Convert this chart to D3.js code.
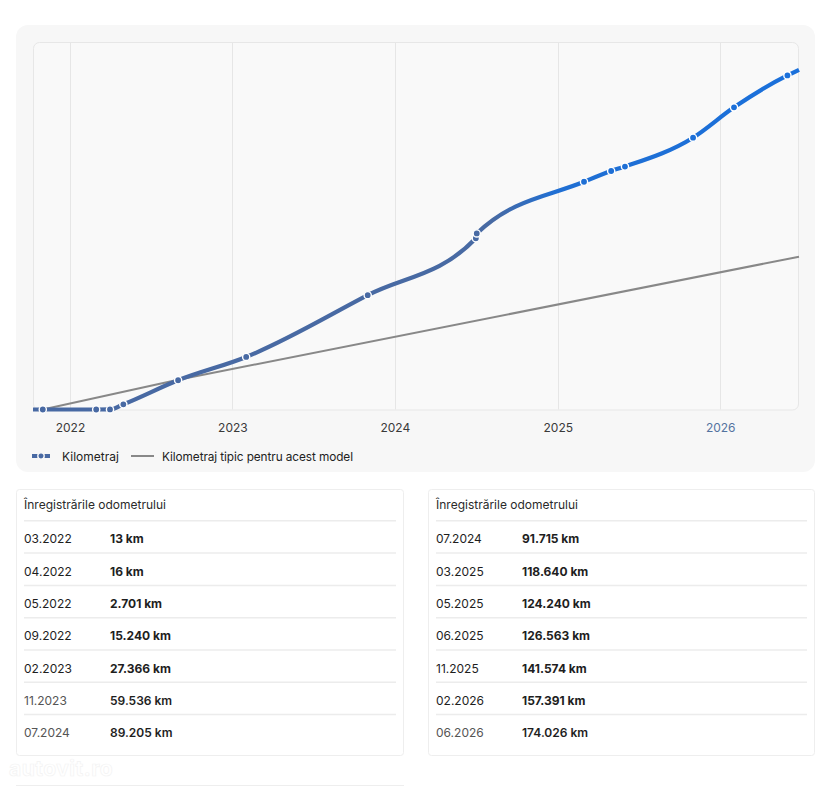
<!DOCTYPE html>
<html>
<head>
<meta charset="utf-8">
<script src="https://cdn.jsdelivr.net/npm/d3@7"></script>
<style>
  html, body { margin: 0; padding: 0; background: #ffffff; }
  svg { display: block; font-family: Inter, "Noto Sans", "Liberation Sans", sans-serif; }
</style>
</head>
<body>
<svg id="chart" width="832" height="787"></svg>
<script>
// ---------------- DATA ----------------
// Odometer records (table rows and chart markers)
const recordDates  = ["2022-03","2022-04","2022-05","2022-09","2023-02","2023-11","2024-07",
                      "2024-07","2025-03","2025-05","2025-06","2025-11","2026-02","2026-06"];
const recordLabels = ["03.2022","04.2022","05.2022","09.2022","02.2023","11.2023","07.2024",
                      "07.2024","03.2025","05.2025","06.2025","11.2025","02.2026","06.2026"];
const recordKm     = [13, 16, 2701, 15240, 27366, 59536, 89205,
                      91715, 118640, 124240, 126563, 141574, 157391, 174026];
// day offsets used to separate the two records of the same month
const recordDayOfMonth = [1,1,1,1,1,1,1, 3,1,1,1,1,1,1];
// first registration point (chart only) and line ends estimated at plot edges
const firstPointDate = "2021-11";
const firstPointKm = 0;
const lineStartDate = "2021-10-10";
const lineStartKm = 0;
const lineEndDate = "2026-06-27";
const lineEndKm = 176900;
// typical mileage for this model (grey line), estimated
const typicalDates = ["2021-10-10","2021-11-01","2022-09-01","2026-06-27"];
const typicalKm    = [0, 0, 15500, 79600];
// x-axis ticks
const yearTicks = [2022, 2023, 2024, 2025, 2026];
const highlightYear = 2026;
// texts
const seriesName = "Kilometraj";
const typicalName = "Kilometraj tipic pentru acest model";
const tableTitle = "Înregistrările odometrului";
const leftRows = 7;

// ---------------- HELPERS ----------------
const toDate = (s, day) => {
  const p = s.split("-").map(Number);
  return new Date(p[0], p[1]-1, p.length > 2 ? p[2] : (day || 1));
};
const locale = d3.formatLocale({decimal: ",", thousands: ".", grouping: [3], currency: ["", ""]});
const fmtKm = v => locale.format(",d")(v) + " km";

const svg = d3.select("#chart");
const defs = svg.append("defs");

// ---------------- CHART CARD ----------------
const card = {x: 16, y: 25, w: 799, h: 447};
svg.append("rect").attr("x", card.x).attr("y", card.y).attr("width", card.w).attr("height", card.h)
  .attr("rx", 12).attr("fill", "#f7f7f7");

const plot = {left: 33, right: 799, top: 42, bottom: 409.5};
svg.append("rect").attr("x", plot.left + 0.5).attr("y", plot.top + 0.5)
  .attr("width", plot.right - plot.left - 1).attr("height", plot.bottom - plot.top)
  .attr("rx", 6).attr("fill", "#f9f9f9").attr("stroke", "#e7e7e7").attr("stroke-width", 1);

const x = d3.scaleTime()
  .domain([toDate(lineStartDate), toDate(lineEndDate)])
  .range([plot.left, plot.right]);
const y = d3.scaleLinear()
  .domain([0, d3.max(recordKm) * 1.1])
  .range([plot.bottom, plot.top]);

// grid lines
svg.append("g").selectAll("line").data(yearTicks).join("line")
  .attr("x1", d => Math.round(x(new Date(d, 0, 1))) + 0.5)
  .attr("x2", d => Math.round(x(new Date(d, 0, 1))) + 0.5)
  .attr("y1", plot.top + 1).attr("y2", plot.bottom)
  .attr("stroke", "#e6e6e6").attr("stroke-width", 1);

// x axis labels
const xAxis = d3.axisBottom(x)
  .tickValues(yearTicks.map(d => new Date(d, 0, 1)))
  .tickFormat(d3.timeFormat("%Y"))
  .tickSize(0).tickPadding(14);
const gx = svg.append("g").attr("transform", `translate(0,${plot.bottom})`).call(xAxis);
gx.select(".domain").remove();
gx.selectAll("text")
  .attr("font-size", 12).attr("font-family", "Inter, sans-serif")
  .attr("fill", d => d.getFullYear() === highlightYear ? "#54739f" : "#3a3a3a");

// gradient for mileage line
const grad = defs.append("linearGradient").attr("id", "kmGrad")
  .attr("gradientUnits", "userSpaceOnUse")
  .attr("x1", plot.left).attr("x2", plot.right).attr("y1", 0).attr("y2", 0);
grad.append("stop").attr("offset", 0).attr("stop-color", "#4869a3");
grad.append("stop").attr("offset", 0.6).attr("stop-color", "#486aa3");
grad.append("stop").attr("offset", 0.68).attr("stop-color", "#206fd3");
grad.append("stop").attr("offset", 1).attr("stop-color", "#1a70db");

// typical line
const typicalData = typicalDates.map((d, i) => ({date: toDate(d), km: typicalKm[i]}));
svg.append("path").datum(typicalData)
  .attr("d", d3.line().x(d => x(d.date)).y(d => y(d.km)))
  .attr("fill", "none").attr("stroke", "#888888").attr("stroke-width", 2);

// mileage line
const markers = [{date: toDate(firstPointDate), km: firstPointKm}]
  .concat(recordDates.map((d, i) => ({date: toDate(d, recordDayOfMonth[i]), km: recordKm[i]})));
const lineData = [{date: toDate(lineStartDate), km: lineStartKm}]
  .concat(markers)
  .concat([{date: toDate(lineEndDate), km: lineEndKm}]);
svg.append("path").datum(lineData)
  .attr("d", d3.line().curve(d3.curveMonotoneX).x(d => x(d.date)).y(d => y(d.km)))
  .attr("fill", "none").attr("stroke", "url(#kmGrad)").attr("stroke-width", 4.2)
  .attr("stroke-linejoin", "round");

svg.append("g").selectAll("circle").data(markers).join("circle")
  .attr("cx", d => x(d.date)).attr("cy", d => y(d.km))
  .attr("r", 3.6).attr("fill", "url(#kmGrad)")
  .attr("stroke", "#ffffff").attr("stroke-width", 1.4);

// legend
const lg = svg.append("g");
lg.append("line").attr("x1", 32).attr("x2", 50).attr("y1", 456).attr("y2", 456)
  .attr("stroke", "#4869a3").attr("stroke-width", 4);
lg.append("circle").attr("cx", 41).attr("cy", 456).attr("r", 3.2)
  .attr("fill", "#4869a3").attr("stroke", "#f7f7f7").attr("stroke-width", 1.4);
lg.append("text").attr("x", 62).attr("y", 460.5).attr("font-size", 12).attr("fill", "#222")
  .text(seriesName);
lg.append("line").attr("x1", 131).attr("x2", 154).attr("y1", 456).attr("y2", 456)
  .attr("stroke", "#888").attr("stroke-width", 2);
lg.append("text").attr("x", 162).attr("y", 460.5).attr("font-size", 11.8).attr("fill", "#222")
  .attr("textLength", 191).attr("lengthAdjust", "spacing")
  .text(typicalName);

// ---------------- TABLES ----------------
function drawTable(x0, cardW, idxs, nLight) {
  const g = svg.append("g");
  g.append("rect").attr("x", x0 + 0.5).attr("y", 489.5).attr("width", cardW).attr("height", 266)
    .attr("rx", 3).attr("fill", "#ffffff").attr("stroke", "#eeeeee").attr("stroke-width", 1);
  const tx = x0 + 8;
  const lineEnd = x0 + cardW - 7;
  g.append("text").attr("x", tx).attr("y", 509).attr("font-size", 12).attr("fill", "#2a2a2a")
    .text(tableTitle);
  const rowH = 32.3;
  idxs.forEach((ri, k) => {
    const sepY = 520.8 + k * rowH;
    g.append("line").attr("x1", tx).attr("x2", lineEnd).attr("y1", sepY).attr("y2", sepY)
      .attr("stroke", "#ececec").attr("stroke-width", 1.5);
    const light = k >= idxs.length - nLight;
    const ty = sepY + 22.5;
    g.append("text").attr("x", tx).attr("y", ty).attr("font-size", 12)
      .attr("fill", light ? "#555" : "#1e1e1e")
      .text(recordLabels[ri]);
    g.append("text").attr("x", tx + 86).attr("y", ty).attr("font-size", 12)
      .attr("font-weight", light ? 600 : 700).attr("fill", "#1e1e1e")
      .text(fmtKm(recordKm[ri]));
  });
}
const allIdx = d3.range(recordKm.length);
drawTable(16, 387, allIdx.slice(0, leftRows), 2);
drawTable(428, 386, allIdx.slice(leftRows), 1);

// bottom separator line
svg.append("line").attr("x1", 16).attr("x2", 404).attr("y1", 785.5).attr("y2", 785.5)
  .attr("stroke", "#eeeeee").attr("stroke-width", 1);

// faint watermark
svg.append("text").attr("x", 9).attr("y", 776).attr("font-size", 21).attr("font-weight", 700)
  .attr("fill", "#ffffff").attr("stroke", "#f3f3f3").attr("stroke-width", 0.7)
  .attr("letter-spacing", 0.5)
  .text("autovit.ro");
</script>
</body>
</html>
